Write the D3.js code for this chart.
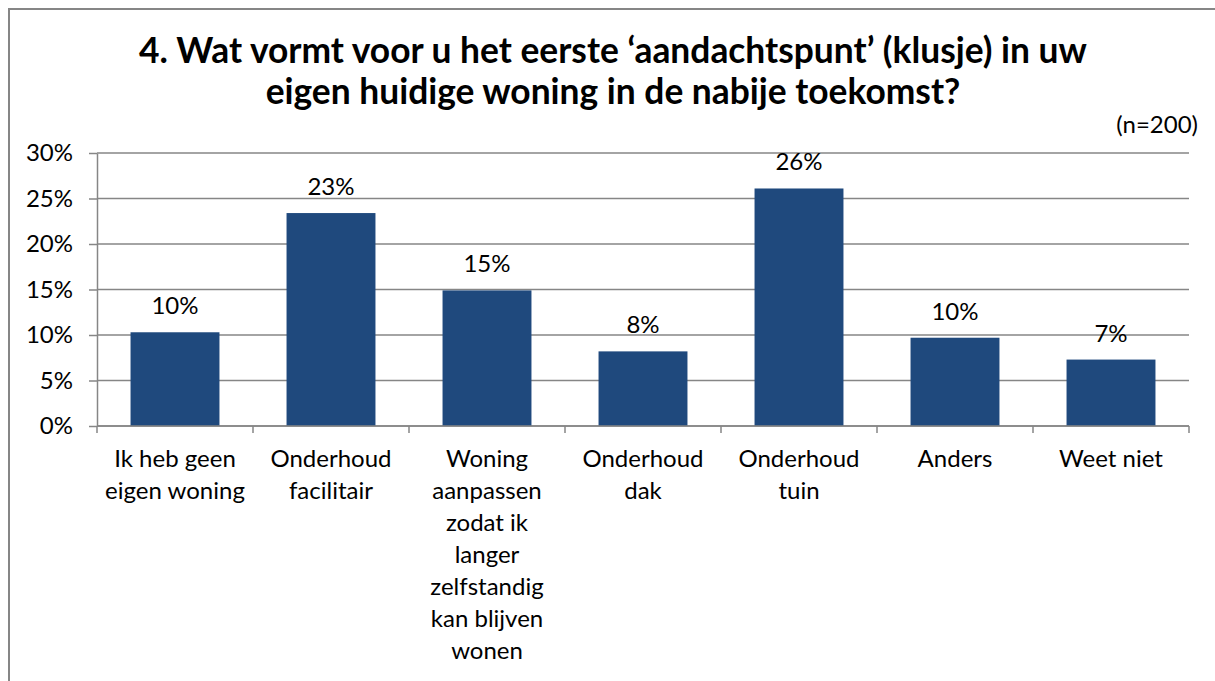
<!DOCTYPE html>
<html lang="nl">
  <head>
    <meta charset="utf-8">
    <title>Aandachtspunt woning</title>
    <script src="https://d3js.org/d3.v7.min.js"></script>
    <style>
      body { margin: 0; background: #fff; }
      text { font-family: Lato, "Open Sans", sans-serif; fill: #000; }
    </style>
  </head>
  <body>
    <div id="chart"></div>
    <script>

// data
var categories = [
  "Ik heb geen\neigen woning",
  "Onderhoud\nfacilitair",
  "Woning\naanpassen\nzodat ik\nlanger\nzelfstandig\nkan blijven\nwonen",
  "Onderhoud\ndak",
  "Onderhoud\ntuin",
  "Anders",
  "Weet niet"
];
var values = [10.3, 23.4, 14.9, 8.2, 26.1, 9.7, 7.3];
var yTicks = [0, 5, 10, 15, 20, 25, 30];
var titleLines = [
  "4. Wat vormt voor u het eerste \u2018aandachtspunt\u2019 (klusje) in uw",
  "eigen huidige woning in de nabije toekomst?"
];
var note = "(n=200)";

var w = 1215;
var h = 681;
var gridColor = "#868686";
var barColor = "#1f497d";

var margin = {top: 153, left: 97, right: 1189, bottom: 426};

var svg = d3.select("#chart")
  .append("svg")
    .attr("width", w)
    .attr("height", h);

// chart frame (right and bottom edges fall outside the picture)
svg.append("rect")
  .attr("x", 9)
  .attr("y", 9)
  .attr("width", w + 20)
  .attr("height", h + 20)
  .attr("fill", "none")
  .attr("stroke", gridColor)
  .attr("stroke-width", 2);

//Scales
var xScale = d3.scaleBand()
  .domain(d3.range(categories.length))
  .range([margin.left, margin.right])
  .paddingInner(0.43)
  .paddingOuter(0.215);

var yScale = d3.scaleLinear()
  .domain([0, 30])
  .range([margin.bottom, margin.top]);

// title
var title = svg.append("text")
  .attr("text-anchor", "middle")
  .style("font-weight", "bold")
  .style("font-size", "32px");

title.selectAll("tspan")
  .data(titleLines)
  .enter()
  .append("tspan")
    .attr("x", 613)
    .attr("y", (d, i) => 63 + i * 41)
    .text(d => d);

// squeeze title to the width of the original line
var firstLine = title.select("tspan").node().getComputedTextLength();
title.style("font-size", (32 * 948 / firstLine) + "px");

svg.append("text")
  .attr("x", 1198)
  .attr("y", 133)
  .attr("text-anchor", "end")
  .style("font-size", "24px")
  .text(note);

// gridlines
svg.append("g")
  .selectAll("line")
  .data(yTicks)
  .enter()
  .append("line")
    .attr("x1", margin.left)
    .attr("x2", margin.right)
    .attr("y1", d => yScale(d))
    .attr("y2", d => yScale(d))
    .attr("stroke", gridColor)
    .attr("stroke-width", 1.5);

// y axis
var yAxis = d3.axisLeft(yScale)
  .tickValues(yTicks)
  .tickSize(8)
  .tickSizeOuter(0)
  .tickPadding(16)
  .tickFormat(d => d + "%");

var yg = svg.append("g")
  .attr("transform", `translate(${margin.left},0)`)
  .call(yAxis);
yg.selectAll("path, line").attr("stroke", gridColor).attr("stroke-width", 1.5);
yg.selectAll("text").attr("font-family", null).style("font-size", "24px").attr("fill", "#000");

// bars
svg.append("g")
  .selectAll("rect")
  .data(values)
  .enter()
  .append("rect")
    .attr("x", (d, i) => xScale(i))
    .attr("y", d => yScale(d))
    .attr("width", xScale.bandwidth())
    .attr("height", d => yScale(0) - yScale(d))
    .attr("fill", barColor);

// value labels
svg.append("g")
  .selectAll("text")
  .data(values)
  .enter()
  .append("text")
    .attr("x", (d, i) => xScale(i) + xScale.bandwidth() / 2)
    .attr("y", d => yScale(d) - 18)
    .attr("text-anchor", "middle")
    .style("font-size", "24px")
    .text(d => Math.round(d) + "%");

// x axis with ticks at the category boundaries
var bounds = d3.range(categories.length + 1)
  .map(i => xScale.range()[0] + i * xScale.step());

var xg = svg.append("g");
xg.append("line")
  .attr("x1", margin.left)
  .attr("x2", margin.right)
  .attr("y1", yScale(0))
  .attr("y2", yScale(0))
  .attr("stroke", gridColor)
  .attr("stroke-width", 1.5);

xg.selectAll(".tick")
  .data(bounds)
  .enter()
  .append("line")
    .attr("class", "tick")
    .attr("x1", d => d)
    .attr("x2", d => d)
    .attr("y1", yScale(0))
    .attr("y2", yScale(0) + 7)
    .attr("stroke", gridColor)
    .attr("stroke-width", 1.5);

// category labels
var catLabels = svg.append("g")
  .selectAll("text")
  .data(categories)
  .enter()
  .append("text")
    .attr("text-anchor", "middle")
    .style("font-size", "24px");

catLabels.selectAll("tspan")
  .data((d, i) => d.split("\n").map(t => ({t: t, i: i})))
  .enter()
  .append("tspan")
    .attr("x", d => xScale(d.i) + xScale.bandwidth() / 2)
    .attr("y", (d, j) => 467 + j * 32)
    .text(d => d.t);

    </script>
  </body>
</html>
